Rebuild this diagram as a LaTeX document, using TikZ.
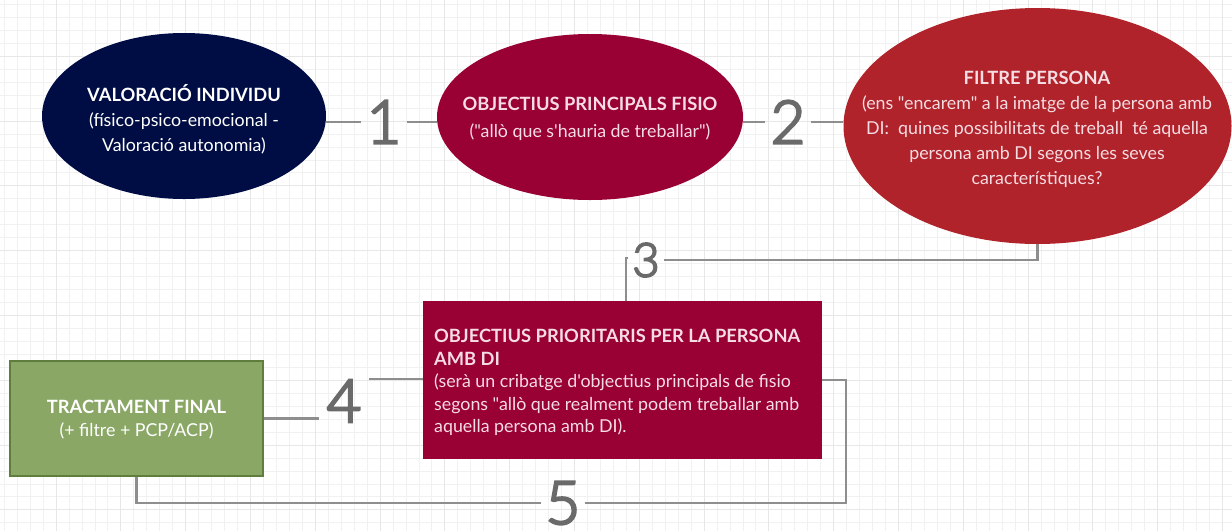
\documentclass[tikz,border=0pt]{standalone}
\usepackage{fontspec}
\setmainfont{Lato}[Ligatures=TeXOff]
\IfFontExistsTF{Lato Light}{\newfontfamily\numfont{Lato Light}[Ligatures=TeXOff,BoldFont={Lato Light},BoldFeatures={FakeBold=4}]}{\newfontfamily\numfont{Lato}[Ligatures=TeXOff,BoldFont={Lato}]}
\usetikzlibrary{shapes.geometric}
\definecolor{navy}{HTML}{000D44}
\definecolor{crim}{HTML}{990033}
\definecolor{redd}{HTML}{B0232A}
\definecolor{greenf}{HTML}{8AA766}
\definecolor{greenb}{HTML}{5F7D3C}
\definecolor{linegray}{HTML}{8E8E8E}
\definecolor{numgray}{HTML}{6A6A6A}
\definecolor{gridminor}{HTML}{F1F1F1}
\definecolor{gridmajor}{HTML}{E7E7E7}
\definecolor{pinkw}{HTML}{F6DCE3}
\newcommand{\hd}[1]{{\fontsize{18.3}{25}\selectfont\bfseries #1}}
\begin{document}
\begin{tikzpicture}[x=1pt,y=-1pt,
  conn/.style={draw=linegray, line width=2.6pt},
  num/.style={text=numgray, font=\numfont\fontsize{60}{60}\selectfont\bfseries, inner xsep=5pt, inner ysep=0pt},
  oval/.style={ellipse, inner sep=0pt},
  txt/.style={align=center, inner sep=0pt, font=\fontsize{17.8}{25}\selectfont},
]
\useasboundingbox (0,0) rectangle (1232,531);
\fill[white] (0,0) rectangle (1232,531);
% grid
\foreach \i in {0,...,94} {\draw[gridminor, line width=1pt] ({4.3+12.96*\i},0) -- ({4.3+12.96*\i},531);}
\foreach \i in {0,...,40} {\draw[gridminor, line width=1pt] (0,{4.5+12.96*\i}) -- (1232,{4.5+12.96*\i});}
\foreach \i in {4,9,...,94} {\draw[gridmajor, line width=1pt] ({4.3+12.96*\i},0) -- ({4.3+12.96*\i},531);}
\foreach \i in {4,9,...,40} {\draw[gridmajor, line width=1pt] (0,{4.5+12.96*\i}) -- (1232,{4.5+12.96*\i});}

% shapes
\node[oval, fill=navy, minimum width=284pt, minimum height=166pt] (e1) at (184,116) {};
\node[oval, fill=crim, minimum width=306pt, minimum height=166pt] (e2) at (590,117) {};
\node[oval, fill=redd, minimum width=388pt, minimum height=236pt] (e3) at (1037.5,126) {};
\node[fill=crim, inner sep=0pt, minimum width=399pt, minimum height=158pt, anchor=north west] (r2) at (423,301) {};
\node[draw=greenb, fill=greenf, line width=2pt, minimum width=253pt, minimum height=115pt, text=white,
      align=center, font=\fontsize{17.8}{23}\selectfont] (g) at (136.5,418.5)
  {\rule{0pt}{16pt}\hd{TRACTAMENT FINAL}\\(+ filtre + PCP/ACP)};

% texts
\node[txt, text=white] (t1) at (184,119.5)
  {\hd{VALORACIÓ INDIVIDU}\\(físico-psico-emocional -\\Valoració autonomia)};
\node[txt, text=pinkw, font=\fontsize{17.8}{27}\selectfont] (t2) at (590,119)
  {\hd{OBJECTIUS PRINCIPALS FISIO}\\("allò que s'hauria de treballar")};
\node[txt, text=pinkw] (t3) at (1037,129)
  {\hd{FILTRE PERSONA}\\(ens "encarem" a la imatge de la persona amb\\DI:\ \ quines possibilitats de treball\ \ té aquella\\persona amb DI segons les seves\\característiques?};
\node[align=left, inner sep=0pt, anchor=north west, text=pinkw, font=\fontsize{17.8}{22.6}\selectfont] (t4) at (434,329)
  {\hd{OBJECTIUS PRIORITARIS PER LA PERSONA}\\\hd{AMB DI}\\(serà un cribatge d'objectius principals de fisio\\segons "allò que realment podem treballar amb\\aquella persona amb DI).};

% numbers
\node[num] (n1) at (384,122) {1};
\node[num] (n2) at (788,122) {2};
\node[num, font=\numfont\fontsize{47}{47}\selectfont\bfseries, inner xsep=4pt] (n3) at (646,260) {3};
\node[num, inner xsep=7pt] (n4) at (344,401) {4};
\node[num, inner xsep=4pt] (n5) at (563,503) {5};

% connectors
\draw[conn] (e1.east |- n1.west) -- (n1.west);
\draw[conn] (n1.east) -- (n1.east -| e2.west);
\draw[conn] (e2.east |- n2.west) -- (n2.west);
\draw[conn] (n2.east) -- (n2.east -| e3.west);
\draw[conn] (e3.south) |- (n3.east);
\coordinate (c3) at (626,258);
\draw[conn] (n3.west |- c3) -- (c3) -- (c3 |- r2.north);
\draw[conn] (g.east) -- (g.east -| n4.west);
\coordinate (y4) at (0,379);
\draw[conn] (n4.east |- y4) -- (r2.west |- y4);
\draw[conn] (g.south) |- (n5.west);
\coordinate (c5) at (846,380);
\draw[conn] (n5.east) -| (c5) -- (c5 -| r2.east);
\end{tikzpicture}
\end{document}
